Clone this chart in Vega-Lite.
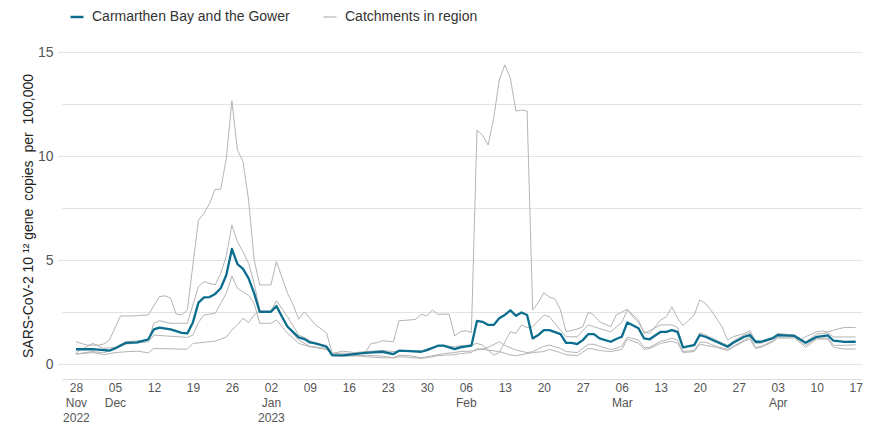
{
  "$schema": "https://vega.github.io/schema/vega-lite/v6.json",
  "width": 800,
  "height": 327,
  "autosize": {"type": "none"},
  "padding": {"left": 62, "top": 52, "right": 8, "bottom": 48},
  "background": "white",
  "config": {
    "font": "Liberation Sans",
    "view": {"stroke": null}
  },
  "datasets": {
    "region": [
      {"d":"2022-11-28","v":0.71},{"d":"2022-12-01","v":0.72},{"d":"2022-12-04","v":0.64},{"d":"2022-12-05","v":0.75},
      {"d":"2022-12-07","v":1.02},{"d":"2022-12-09","v":1.04},{"d":"2022-12-11","v":1.19},{"d":"2022-12-12","v":1.67},
      {"d":"2022-12-13","v":1.75},{"d":"2022-12-15","v":1.67},{"d":"2022-12-17","v":1.5},{"d":"2022-12-18","v":1.47},
      {"d":"2022-12-19","v":2.0},{"d":"2022-12-20","v":2.95},{"d":"2022-12-21","v":3.2},{"d":"2022-12-22","v":3.22},
      {"d":"2022-12-23","v":3.37},{"d":"2022-12-24","v":3.64},{"d":"2022-12-25","v":4.28},{"d":"2022-12-26","v":5.53},
      {"d":"2022-12-27","v":4.8},{"d":"2022-12-28","v":4.57},{"d":"2022-12-29","v":4.12},{"d":"2022-12-30","v":3.4},
      {"d":"2022-12-31","v":2.51},{"d":"2023-01-02","v":2.51},{"d":"2023-01-03","v":2.79},{"d":"2023-01-04","v":2.27},
      {"d":"2023-01-05","v":1.79},{"d":"2023-01-07","v":1.28},{"d":"2023-01-08","v":1.2},{"d":"2023-01-09","v":1.04},
      {"d":"2023-01-10","v":0.99},{"d":"2023-01-12","v":0.83},{"d":"2023-01-13","v":0.43},{"d":"2023-01-15","v":0.42},
      {"d":"2023-01-17","v":0.48},{"d":"2023-01-19","v":0.54},{"d":"2023-01-22","v":0.59},{"d":"2023-01-24","v":0.48},
      {"d":"2023-01-25","v":0.64},{"d":"2023-01-27","v":0.62},{"d":"2023-01-29","v":0.59},{"d":"2023-01-30","v":0.67},
      {"d":"2023-02-01","v":0.88},{"d":"2023-02-02","v":0.88},{"d":"2023-02-04","v":0.72},{"d":"2023-02-05","v":0.8},
      {"d":"2023-02-07","v":0.88},{"d":"2023-02-08","v":2.07},{"d":"2023-02-09","v":2.03},{"d":"2023-02-10","v":1.88},
      {"d":"2023-02-11","v":1.88},{"d":"2023-02-12","v":2.2},{"d":"2023-02-13","v":2.36},{"d":"2023-02-14","v":2.58},
      {"d":"2023-02-15","v":2.32},{"d":"2023-02-16","v":2.48},{"d":"2023-02-17","v":2.36},{"d":"2023-02-18","v":1.23},
      {"d":"2023-02-19","v":1.39},{"d":"2023-02-20","v":1.63},{"d":"2023-02-21","v":1.63},{"d":"2023-02-23","v":1.44},
      {"d":"2023-02-24","v":1.02},{"d":"2023-02-25","v":1.02},{"d":"2023-02-26","v":0.96},{"d":"2023-02-27","v":1.15},
      {"d":"2023-02-28","v":1.44},{"d":"2023-03-01","v":1.44},{"d":"2023-03-02","v":1.23},{"d":"2023-03-04","v":1.07},
      {"d":"2023-03-05","v":1.2},{"d":"2023-03-06","v":1.31},{"d":"2023-03-07","v":2.0},{"d":"2023-03-09","v":1.72},
      {"d":"2023-03-10","v":1.23},{"d":"2023-03-11","v":1.19},{"d":"2023-03-13","v":1.55},{"d":"2023-03-14","v":1.55},
      {"d":"2023-03-15","v":1.63},{"d":"2023-03-16","v":1.55},{"d":"2023-03-17","v":0.8},{"d":"2023-03-19","v":0.91},
      {"d":"2023-03-20","v":1.39},{"d":"2023-03-21","v":1.31},{"d":"2023-03-23","v":1.07},{"d":"2023-03-25","v":0.83},
      {"d":"2023-03-26","v":1.02},{"d":"2023-03-28","v":1.31},{"d":"2023-03-29","v":1.39},{"d":"2023-03-30","v":1.07},
      {"d":"2023-03-31","v":1.07},{"d":"2023-04-02","v":1.23},{"d":"2023-04-03","v":1.39},{"d":"2023-04-06","v":1.35},
      {"d":"2023-04-08","v":1.02},{"d":"2023-04-10","v":1.31},{"d":"2023-04-12","v":1.38},{"d":"2023-04-13","v":1.12},
      {"d":"2023-04-15","v":1.06},{"d":"2023-04-17","v":1.07}
    ],
    "catch": [
      {"s":"C1","d":"2022-11-28","v":1.07},{"s":"C1","d":"2022-11-30","v":0.91},{"s":"C1","d":"2022-12-02","v":0.91},{"s":"C1","d":"2022-12-03","v":0.96},
      {"s":"C1","d":"2022-12-04","v":1.15},{"s":"C1","d":"2022-12-06","v":2.31},{"s":"C1","d":"2022-12-08","v":2.31},{"s":"C1","d":"2022-12-11","v":2.36},
      {"s":"C1","d":"2022-12-13","v":3.24},{"s":"C1","d":"2022-12-14","v":3.28},{"s":"C1","d":"2022-12-15","v":3.16},{"s":"C1","d":"2022-12-16","v":2.4},
      {"s":"C1","d":"2022-12-17","v":2.36},{"s":"C1","d":"2022-12-18","v":2.6},{"s":"C1","d":"2022-12-20","v":6.92},{"s":"C1","d":"2022-12-21","v":7.24},
      {"s":"C1","d":"2022-12-22","v":7.72},{"s":"C1","d":"2022-12-23","v":8.4},{"s":"C1","d":"2022-12-24","v":8.4},{"s":"C1","d":"2022-12-25","v":9.89},
      {"s":"C1","d":"2022-12-26","v":12.66},{"s":"C1","d":"2022-12-27","v":10.29},{"s":"C1","d":"2022-12-28","v":9.73},{"s":"C1","d":"2022-12-29","v":7.88},
      {"s":"C1","d":"2022-12-30","v":5.0},{"s":"C1","d":"2022-12-31","v":3.8},{"s":"C1","d":"2023-01-02","v":3.8},{"s":"C1","d":"2023-01-03","v":4.92},
      {"s":"C1","d":"2023-01-05","v":3.4},{"s":"C1","d":"2023-01-06","v":2.84},{"s":"C1","d":"2023-01-07","v":2.15},{"s":"C1","d":"2023-01-08","v":2.51},
      {"s":"C1","d":"2023-01-09","v":2.2},{"s":"C1","d":"2023-01-10","v":1.88},{"s":"C1","d":"2023-01-12","v":1.5},{"s":"C1","d":"2023-01-13","v":0.51},
      {"s":"C1","d":"2023-01-15","v":0.62},{"s":"C1","d":"2023-01-17","v":0.55},{"s":"C1","d":"2023-01-19","v":0.59},{"s":"C1","d":"2023-01-20","v":0.99},
      {"s":"C1","d":"2023-01-21","v":1.02},{"s":"C1","d":"2023-01-22","v":1.12},{"s":"C1","d":"2023-01-24","v":1.07},{"s":"C1","d":"2023-01-25","v":2.08},
      {"s":"C1","d":"2023-01-27","v":2.12},{"s":"C1","d":"2023-01-28","v":2.15},{"s":"C1","d":"2023-01-29","v":2.39},{"s":"C1","d":"2023-01-30","v":2.31},
      {"s":"C1","d":"2023-01-31","v":2.6},{"s":"C1","d":"2023-02-01","v":2.39},{"s":"C1","d":"2023-02-03","v":2.4},{"s":"C1","d":"2023-02-04","v":1.35},
      {"s":"C1","d":"2023-02-05","v":1.55},{"s":"C1","d":"2023-02-06","v":1.6},{"s":"C1","d":"2023-02-07","v":1.52},{"s":"C1","d":"2023-02-08","v":11.25},
      {"s":"C1","d":"2023-02-09","v":11.0},{"s":"C1","d":"2023-02-10","v":10.53},{"s":"C1","d":"2023-02-11","v":11.81},{"s":"C1","d":"2023-02-12","v":13.65},
      {"s":"C1","d":"2023-02-13","v":14.38},{"s":"C1","d":"2023-02-14","v":13.73},{"s":"C1","d":"2023-02-15","v":12.16},{"s":"C1","d":"2023-02-16","v":12.21},
      {"s":"C1","d":"2023-02-17","v":12.16},{"s":"C1","d":"2023-02-18","v":2.6},{"s":"C1","d":"2023-02-19","v":2.95},{"s":"C1","d":"2023-02-20","v":3.43},
      {"s":"C1","d":"2023-02-21","v":3.22},{"s":"C1","d":"2023-02-22","v":3.13},{"s":"C1","d":"2023-02-23","v":2.6},{"s":"C1","d":"2023-02-24","v":1.55},
      {"s":"C1","d":"2023-02-26","v":1.68},{"s":"C1","d":"2023-02-27","v":1.79},{"s":"C1","d":"2023-02-28","v":2.5},{"s":"C1","d":"2023-03-01","v":2.35},
      {"s":"C1","d":"2023-03-02","v":2.03},{"s":"C1","d":"2023-03-04","v":1.8},{"s":"C1","d":"2023-03-05","v":2.36},{"s":"C1","d":"2023-03-07","v":2.63},
      {"s":"C1","d":"2023-03-08","v":2.27},{"s":"C1","d":"2023-03-09","v":2.0},{"s":"C1","d":"2023-03-10","v":1.55},{"s":"C1","d":"2023-03-11","v":1.47},
      {"s":"C1","d":"2023-03-13","v":2.12},{"s":"C1","d":"2023-03-14","v":2.27},{"s":"C1","d":"2023-03-15","v":2.75},{"s":"C1","d":"2023-03-16","v":2.2},
      {"s":"C1","d":"2023-03-17","v":1.85},{"s":"C1","d":"2023-03-18","v":2.1},{"s":"C1","d":"2023-03-19","v":2.35},{"s":"C1","d":"2023-03-20","v":3.08},
      {"s":"C1","d":"2023-03-21","v":2.92},{"s":"C1","d":"2023-03-22","v":2.6},{"s":"C1","d":"2023-03-24","v":1.79},{"s":"C1","d":"2023-03-25","v":1.15},
      {"s":"C1","d":"2023-03-26","v":1.31},{"s":"C1","d":"2023-03-28","v":1.47},{"s":"C1","d":"2023-03-29","v":1.6},{"s":"C1","d":"2023-03-30","v":1.12},
      {"s":"C1","d":"2023-03-31","v":1.07},{"s":"C1","d":"2023-04-02","v":1.23},{"s":"C1","d":"2023-04-03","v":1.47},{"s":"C1","d":"2023-04-04","v":1.44},
      {"s":"C1","d":"2023-04-06","v":1.39},{"s":"C1","d":"2023-04-07","v":1.15},{"s":"C1","d":"2023-04-08","v":1.31},{"s":"C1","d":"2023-04-10","v":1.55},
      {"s":"C1","d":"2023-04-11","v":1.59},{"s":"C1","d":"2023-04-12","v":1.54},{"s":"C1","d":"2023-04-13","v":1.63},{"s":"C1","d":"2023-04-15","v":1.76},
      {"s":"C1","d":"2023-04-17","v":1.75},

      {"s":"C2","d":"2022-11-28","v":0.55},{"s":"C2","d":"2022-12-01","v":0.99},{"s":"C2","d":"2022-12-03","v":0.75},{"s":"C2","d":"2022-12-05","v":0.8},
      {"s":"C2","d":"2022-12-07","v":1.07},{"s":"C2","d":"2022-12-11","v":1.15},{"s":"C2","d":"2022-12-12","v":1.96},{"s":"C2","d":"2022-12-13","v":2.08},
      {"s":"C2","d":"2022-12-15","v":1.96},{"s":"C2","d":"2022-12-18","v":1.96},{"s":"C2","d":"2022-12-20","v":3.72},{"s":"C2","d":"2022-12-21","v":3.96},
      {"s":"C2","d":"2022-12-23","v":3.8},{"s":"C2","d":"2022-12-24","v":4.35},{"s":"C2","d":"2022-12-25","v":5.2},{"s":"C2","d":"2022-12-26","v":6.68},
      {"s":"C2","d":"2022-12-27","v":5.88},{"s":"C2","d":"2022-12-28","v":5.4},{"s":"C2","d":"2022-12-29","v":4.84},{"s":"C2","d":"2022-12-30","v":3.88},
      {"s":"C2","d":"2022-12-31","v":2.56},{"s":"C2","d":"2023-01-02","v":2.56},{"s":"C2","d":"2023-01-03","v":3.04},{"s":"C2","d":"2023-01-05","v":2.27},
      {"s":"C2","d":"2023-01-07","v":1.39},{"s":"C2","d":"2023-01-08","v":1.28},{"s":"C2","d":"2023-01-09","v":1.12},{"s":"C2","d":"2023-01-10","v":1.0},
      {"s":"C2","d":"2023-01-12","v":0.9},{"s":"C2","d":"2023-01-13","v":0.5},{"s":"C2","d":"2023-01-15","v":0.52},{"s":"C2","d":"2023-01-17","v":0.5},
      {"s":"C2","d":"2023-01-19","v":0.6},{"s":"C2","d":"2023-01-22","v":0.65},{"s":"C2","d":"2023-01-24","v":0.6},{"s":"C2","d":"2023-01-25","v":0.62},
      {"s":"C2","d":"2023-01-27","v":0.6},{"s":"C2","d":"2023-01-29","v":0.62},{"s":"C2","d":"2023-01-30","v":0.72},{"s":"C2","d":"2023-02-01","v":0.85},
      {"s":"C2","d":"2023-02-02","v":0.88},{"s":"C2","d":"2023-02-04","v":0.82},{"s":"C2","d":"2023-02-05","v":0.88},{"s":"C2","d":"2023-02-07","v":0.92},
      {"s":"C2","d":"2023-02-08","v":0.99},{"s":"C2","d":"2023-02-09","v":0.91},{"s":"C2","d":"2023-02-11","v":0.43},{"s":"C2","d":"2023-02-12","v":0.55},
      {"s":"C2","d":"2023-02-14","v":1.55},{"s":"C2","d":"2023-02-15","v":1.47},{"s":"C2","d":"2023-02-16","v":1.88},{"s":"C2","d":"2023-02-17","v":1.75},
      {"s":"C2","d":"2023-02-18","v":1.79},{"s":"C2","d":"2023-02-20","v":2.36},{"s":"C2","d":"2023-02-21","v":2.27},{"s":"C2","d":"2023-02-23","v":1.63},
      {"s":"C2","d":"2023-02-24","v":1.31},{"s":"C2","d":"2023-02-26","v":1.31},{"s":"C2","d":"2023-02-28","v":1.88},{"s":"C2","d":"2023-03-01","v":1.79},
      {"s":"C2","d":"2023-03-04","v":1.55},{"s":"C2","d":"2023-03-06","v":2.0},{"s":"C2","d":"2023-03-07","v":2.6},{"s":"C2","d":"2023-03-09","v":2.12},
      {"s":"C2","d":"2023-03-10","v":1.47},{"s":"C2","d":"2023-03-13","v":1.88},{"s":"C2","d":"2023-03-15","v":1.88},{"s":"C2","d":"2023-03-16","v":1.76},
      {"s":"C2","d":"2023-03-17","v":0.8},{"s":"C2","d":"2023-03-19","v":0.95},{"s":"C2","d":"2023-03-20","v":1.5},{"s":"C2","d":"2023-03-21","v":1.4},
      {"s":"C2","d":"2023-03-23","v":1.15},{"s":"C2","d":"2023-03-25","v":0.9},{"s":"C2","d":"2023-03-26","v":1.1},{"s":"C2","d":"2023-03-28","v":1.4},
      {"s":"C2","d":"2023-03-29","v":1.5},{"s":"C2","d":"2023-03-30","v":1.0},{"s":"C2","d":"2023-03-31","v":1.0},{"s":"C2","d":"2023-04-02","v":1.2},
      {"s":"C2","d":"2023-04-03","v":1.45},{"s":"C2","d":"2023-04-06","v":1.4},{"s":"C2","d":"2023-04-08","v":1.05},{"s":"C2","d":"2023-04-10","v":1.45},
      {"s":"C2","d":"2023-04-12","v":1.5},{"s":"C2","d":"2023-04-13","v":1.3},{"s":"C2","d":"2023-04-15","v":1.3},{"s":"C2","d":"2023-04-17","v":1.3},

      {"s":"C3","d":"2022-11-28","v":0.48},{"s":"C3","d":"2022-12-01","v":0.6},{"s":"C3","d":"2022-12-03","v":0.54},{"s":"C3","d":"2022-12-07","v":0.96},
      {"s":"C3","d":"2022-12-11","v":1.07},{"s":"C3","d":"2022-12-12","v":1.39},{"s":"C3","d":"2022-12-18","v":1.28},{"s":"C3","d":"2022-12-19","v":1.39},
      {"s":"C3","d":"2022-12-20","v":2.0},{"s":"C3","d":"2022-12-21","v":2.36},{"s":"C3","d":"2022-12-23","v":2.44},{"s":"C3","d":"2022-12-24","v":2.92},
      {"s":"C3","d":"2022-12-25","v":3.4},{"s":"C3","d":"2022-12-26","v":4.23},{"s":"C3","d":"2022-12-27","v":3.64},{"s":"C3","d":"2022-12-29","v":3.3},
      {"s":"C3","d":"2022-12-30","v":2.9},{"s":"C3","d":"2022-12-31","v":1.96},{"s":"C3","d":"2023-01-02","v":1.96},{"s":"C3","d":"2023-01-03","v":2.12},
      {"s":"C3","d":"2023-01-05","v":1.47},{"s":"C3","d":"2023-01-07","v":0.99},{"s":"C3","d":"2023-01-09","v":0.83},{"s":"C3","d":"2023-01-12","v":0.7},
      {"s":"C3","d":"2023-01-13","v":0.42},{"s":"C3","d":"2023-01-15","v":0.4},{"s":"C3","d":"2023-01-17","v":0.38},{"s":"C3","d":"2023-01-19","v":0.42},
      {"s":"C3","d":"2023-01-22","v":0.38},{"s":"C3","d":"2023-01-24","v":0.3},{"s":"C3","d":"2023-01-25","v":0.42},{"s":"C3","d":"2023-01-27","v":0.4},
      {"s":"C3","d":"2023-01-29","v":0.3},{"s":"C3","d":"2023-01-30","v":0.35},{"s":"C3","d":"2023-02-01","v":0.45},{"s":"C3","d":"2023-02-02","v":0.5},
      {"s":"C3","d":"2023-02-04","v":0.55},{"s":"C3","d":"2023-02-05","v":0.6},{"s":"C3","d":"2023-02-07","v":0.62},{"s":"C3","d":"2023-02-08","v":0.67},
      {"s":"C3","d":"2023-02-10","v":0.8},{"s":"C3","d":"2023-02-12","v":1.07},{"s":"C3","d":"2023-02-13","v":0.9},{"s":"C3","d":"2023-02-15","v":0.67},
      {"s":"C3","d":"2023-02-17","v":0.55},{"s":"C3","d":"2023-02-18","v":0.59},{"s":"C3","d":"2023-02-20","v":0.85},{"s":"C3","d":"2023-02-21","v":0.91},
      {"s":"C3","d":"2023-02-23","v":0.75},{"s":"C3","d":"2023-02-24","v":0.6},{"s":"C3","d":"2023-02-26","v":0.55},{"s":"C3","d":"2023-02-28","v":0.95},
      {"s":"C3","d":"2023-03-01","v":0.95},{"s":"C3","d":"2023-03-02","v":0.85},{"s":"C3","d":"2023-03-04","v":0.7},{"s":"C3","d":"2023-03-05","v":0.75},
      {"s":"C3","d":"2023-03-06","v":0.85},{"s":"C3","d":"2023-03-07","v":1.3},{"s":"C3","d":"2023-03-09","v":1.15},{"s":"C3","d":"2023-03-10","v":0.8},
      {"s":"C3","d":"2023-03-11","v":0.8},{"s":"C3","d":"2023-03-13","v":1.1},{"s":"C3","d":"2023-03-14","v":1.15},{"s":"C3","d":"2023-03-15","v":1.25},
      {"s":"C3","d":"2023-03-16","v":1.15},{"s":"C3","d":"2023-03-17","v":0.6},{"s":"C3","d":"2023-03-19","v":0.65},{"s":"C3","d":"2023-03-20","v":1.05},
      {"s":"C3","d":"2023-03-21","v":1.05},{"s":"C3","d":"2023-03-23","v":0.85},{"s":"C3","d":"2023-03-25","v":0.7},{"s":"C3","d":"2023-03-26","v":0.85},
      {"s":"C3","d":"2023-03-28","v":1.15},{"s":"C3","d":"2023-03-29","v":1.3},{"s":"C3","d":"2023-03-30","v":0.8},{"s":"C3","d":"2023-03-31","v":0.85},
      {"s":"C3","d":"2023-04-02","v":1.1},{"s":"C3","d":"2023-04-03","v":1.3},{"s":"C3","d":"2023-04-06","v":1.3},{"s":"C3","d":"2023-04-08","v":0.9},
      {"s":"C3","d":"2023-04-10","v":1.25},{"s":"C3","d":"2023-04-12","v":1.25},{"s":"C3","d":"2023-04-13","v":0.9},{"s":"C3","d":"2023-04-15","v":0.9},
      {"s":"C3","d":"2023-04-17","v":0.92},

      {"s":"C4","d":"2022-11-28","v":0.48},{"s":"C4","d":"2022-12-01","v":0.55},{"s":"C4","d":"2022-12-03","v":0.45},{"s":"C4","d":"2022-12-05","v":0.55},
      {"s":"C4","d":"2022-12-07","v":0.59},{"s":"C4","d":"2022-12-09","v":0.62},{"s":"C4","d":"2022-12-11","v":0.54},{"s":"C4","d":"2022-12-12","v":0.75},
      {"s":"C4","d":"2022-12-18","v":0.71},{"s":"C4","d":"2022-12-19","v":0.99},{"s":"C4","d":"2022-12-23","v":1.1},{"s":"C4","d":"2022-12-24","v":1.2},
      {"s":"C4","d":"2022-12-25","v":1.3},{"s":"C4","d":"2022-12-26","v":1.63},{"s":"C4","d":"2022-12-27","v":1.88},{"s":"C4","d":"2022-12-28","v":2.2},
      {"s":"C4","d":"2022-12-29","v":1.99},{"s":"C4","d":"2022-12-30","v":2.36},{"s":"C4","d":"2022-12-31","v":2.55},{"s":"C4","d":"2023-01-02","v":2.5},
      {"s":"C4","d":"2023-01-03","v":2.7},{"s":"C4","d":"2023-01-05","v":1.75},{"s":"C4","d":"2023-01-07","v":1.15},{"s":"C4","d":"2023-01-09","v":0.85},
      {"s":"C4","d":"2023-01-12","v":0.75},{"s":"C4","d":"2023-01-13","v":0.38},{"s":"C4","d":"2023-01-15","v":0.38},{"s":"C4","d":"2023-01-17","v":0.42},
      {"s":"C4","d":"2023-01-19","v":0.35},{"s":"C4","d":"2023-01-22","v":0.3},{"s":"C4","d":"2023-01-24","v":0.3},{"s":"C4","d":"2023-01-25","v":0.35},
      {"s":"C4","d":"2023-01-27","v":0.32},{"s":"C4","d":"2023-01-29","v":0.27},{"s":"C4","d":"2023-01-30","v":0.3},{"s":"C4","d":"2023-02-01","v":0.4},
      {"s":"C4","d":"2023-02-02","v":0.42},{"s":"C4","d":"2023-02-04","v":0.45},{"s":"C4","d":"2023-02-05","v":0.5},{"s":"C4","d":"2023-02-07","v":0.55},
      {"s":"C4","d":"2023-02-08","v":0.75},{"s":"C4","d":"2023-02-09","v":0.7},{"s":"C4","d":"2023-02-10","v":0.67},{"s":"C4","d":"2023-02-12","v":0.6},
      {"s":"C4","d":"2023-02-14","v":0.43},{"s":"C4","d":"2023-02-15","v":0.4},{"s":"C4","d":"2023-02-17","v":0.5},{"s":"C4","d":"2023-02-18","v":0.55},
      {"s":"C4","d":"2023-02-20","v":0.6},{"s":"C4","d":"2023-02-21","v":0.7},{"s":"C4","d":"2023-02-23","v":0.55},{"s":"C4","d":"2023-02-24","v":0.45},
      {"s":"C4","d":"2023-02-26","v":0.4},{"s":"C4","d":"2023-02-28","v":0.75},{"s":"C4","d":"2023-03-01","v":0.72},{"s":"C4","d":"2023-03-02","v":0.65},
      {"s":"C4","d":"2023-03-04","v":0.6},{"s":"C4","d":"2023-03-06","v":0.7},{"s":"C4","d":"2023-03-07","v":1.2},{"s":"C4","d":"2023-03-09","v":1.0},
      {"s":"C4","d":"2023-03-10","v":0.7},{"s":"C4","d":"2023-03-11","v":0.75},{"s":"C4","d":"2023-03-13","v":1.0},{"s":"C4","d":"2023-03-14","v":1.05},
      {"s":"C4","d":"2023-03-15","v":1.1},{"s":"C4","d":"2023-03-16","v":1.0},{"s":"C4","d":"2023-03-17","v":0.55},{"s":"C4","d":"2023-03-19","v":0.6},
      {"s":"C4","d":"2023-03-20","v":0.95},{"s":"C4","d":"2023-03-21","v":0.9},{"s":"C4","d":"2023-03-23","v":0.8},{"s":"C4","d":"2023-03-25","v":0.65},
      {"s":"C4","d":"2023-03-26","v":0.8},{"s":"C4","d":"2023-03-28","v":1.1},{"s":"C4","d":"2023-03-29","v":1.2},{"s":"C4","d":"2023-03-30","v":0.75},
      {"s":"C4","d":"2023-03-31","v":0.8},{"s":"C4","d":"2023-04-02","v":1.05},{"s":"C4","d":"2023-04-03","v":1.25},{"s":"C4","d":"2023-04-06","v":1.25},
      {"s":"C4","d":"2023-04-08","v":0.8},{"s":"C4","d":"2023-04-10","v":1.2},{"s":"C4","d":"2023-04-12","v":1.2},{"s":"C4","d":"2023-04-13","v":0.8},
      {"s":"C4","d":"2023-04-15","v":0.72},{"s":"C4","d":"2023-04-17","v":0.72}
    ]
  },
  "encoding": {
    "x": {
      "field": "d",
      "type": "temporal",
      "scale": {
        "type": "utc",
        "domain": [
          {"year": 2022, "month": 11, "date": 25, "hours": 12, "utc": true},
          {"year": 2023, "month": 4, "date": 18, "hours": 3, "utc": true}
        ]
      },
      "axis": {
        "title": null,
        "grid": false,
        "ticks": false,
        "domain": true,
        "domainColor": "#dddddd",
        "domainWidth": 1,
        "labelPadding": 3,
        "labelFont": "Liberation Sans",
        "labelFontSize": 12,
        "labelColor": "#555555",
        "labelLineHeight": 15,
        "labelOverlap": false,
        "values": [
          {"year": 2022, "month": 11, "date": 28, "utc": true},
          {"year": 2022, "month": 12, "date": 5, "utc": true},
          {"year": 2022, "month": 12, "date": 12, "utc": true},
          {"year": 2022, "month": 12, "date": 19, "utc": true},
          {"year": 2022, "month": 12, "date": 26, "utc": true},
          {"year": 2023, "month": 1, "date": 2, "utc": true},
          {"year": 2023, "month": 1, "date": 9, "utc": true},
          {"year": 2023, "month": 1, "date": 16, "utc": true},
          {"year": 2023, "month": 1, "date": 23, "utc": true},
          {"year": 2023, "month": 1, "date": 30, "utc": true},
          {"year": 2023, "month": 2, "date": 6, "utc": true},
          {"year": 2023, "month": 2, "date": 13, "utc": true},
          {"year": 2023, "month": 2, "date": 20, "utc": true},
          {"year": 2023, "month": 2, "date": 27, "utc": true},
          {"year": 2023, "month": 3, "date": 6, "utc": true},
          {"year": 2023, "month": 3, "date": 13, "utc": true},
          {"year": 2023, "month": 3, "date": 20, "utc": true},
          {"year": 2023, "month": 3, "date": 27, "utc": true},
          {"year": 2023, "month": 4, "date": 3, "utc": true},
          {"year": 2023, "month": 4, "date": 10, "utc": true},
          {"year": 2023, "month": 4, "date": 17, "utc": true}
        ],
        "labelExpr": "(datum.index == 0 || (utcdate(datum.value) <= 7 && utcmonth(datum.value) == 0)) ? [utcFormat(datum.value, '%d'), utcFormat(datum.value, '%b'), utcFormat(datum.value, '%Y')] : (utcdate(datum.value) <= 7 ? [utcFormat(datum.value, '%d'), utcFormat(datum.value, '%b')] : utcFormat(datum.value, '%d'))"
      }
    },
    "y": {
      "field": "v",
      "type": "quantitative",
      "scale": {"domain": [-0.72, 15], "nice": false, "zero": false},
      "axis": {
        "title": "SARS-CoV-2 10 ¹² gene\u00a0 copies\u00a0 per\u00a0 100,000",
        "titleFont": "Liberation Sans",
        "titleFontSize": 14,
        "titleFontWeight": "normal",
        "titleColor": "#222222",
        "titlePadding": 2,
        "values": [0, 2.5, 5, 7.5, 10, 12.5, 15],
        "labelExpr": "datum.value % 5 == 0 ? datum.label : ''",
        "labelFontSize": 14,
        "labelColor": "#555555",
        "labelPadding": 5,
        "tickSize": 4,
        "tickColor": {"expr": "datum.value % 5 == 0 ? '#dddddd' : 'rgba(0,0,0,0)'"},
        "domain": false,
        "grid": true,
        "gridColor": "#e3e3e3",
        "gridWidth": 1
      }
    }
  },
  "layer": [
    {
      "data": {"name": "catch"},
      "mark": {"type": "line", "strokeWidth": 1, "strokeJoin": "round"},
      "encoding": {
        "detail": {"field": "s"},
        "color": {
          "datum": "Catchments in region",
          "scale": {
            "domain": ["Carmarthen Bay and the Gower", "Catchments in region"],
            "range": ["#0c6e8e", "#b4b4b4"]
          },
          "legend": {
            "title": null,
            "orient": "none",
            "legendX": 8,
            "legendY": -42,
            "direction": "horizontal",
            "symbolType": "stroke",
            "symbolSize": 169,
            "symbolStrokeWidth": 2,
            "labelFont": "Liberation Sans",
            "labelFontSize": 14,
            "labelColor": "#333333",
            "labelOffset": 8,
            "labelLimit": 0,
            "columnPadding": 31,
            "encode": {
              "symbols": {
                "update": {
                  "strokeWidth": {"signal": "datum.value == 'Carmarthen Bay and the Gower' ? 2.5 : 1.2"}
                }
              }
            }
          }
        }
      }
    },
    {
      "data": {"name": "region"},
      "mark": {"type": "line", "strokeWidth": 2.3, "strokeJoin": "round"},
      "encoding": {
        "color": {"datum": "Carmarthen Bay and the Gower"}
      }
    }
  ]
}
